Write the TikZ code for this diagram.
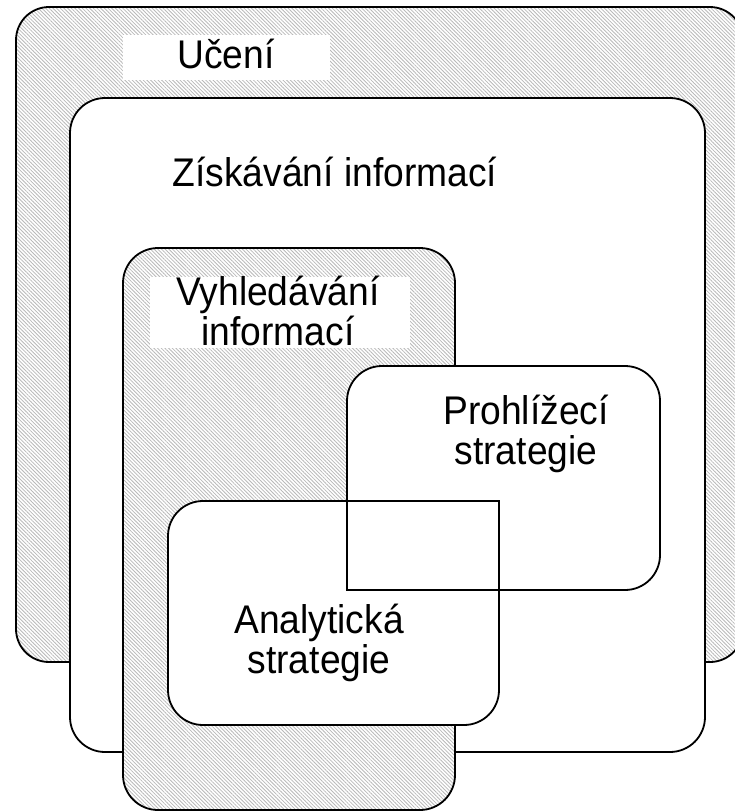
\documentclass[tikz,border=0pt]{standalone}
\usepackage{fontspec}
\setmainfont[FakeStretch=0.93]{Liberation Sans}
\usetikzlibrary{patterns.meta}

\begin{document}
\begin{tikzpicture}[x=1pt,y=-1pt,
	hatched/.style={preaction={fill=white},pattern={Lines[angle=-45,distance=2.6pt,line width=0.8pt]},pattern color=gray!55},
	frame/.style={draw=black,line width=1.8pt},
	boxtext/.style={font=\fontsize{40}{40}\selectfont,align=center,inner sep=0pt}]
	\useasboundingbox (0,0) rectangle (735,812);
	\clip (0,0) rectangle (735,812);
	% nested areas
	\draw[frame,hatched,rounded corners=33] (16,7) rectangle (743,662);
	\draw[frame,fill=white,rounded corners=35] (70,98) rectangle (705,752);
	\draw[frame,hatched,rounded corners=35] (123,248) rectangle (455,810);
	% white label backgrounds
	\fill[white] (123,35) rectangle (330,80);
	\fill[white] (150,277) rectangle (410,348);
	% the two strategies, overlapping
	\fill[white,rounded corners=35] (347,590) -- (347,366) -- (660,366) -- (660,590) -- (347,590);
	\fill[white,rounded corners=35] (499,501) -- (499,725) -- (168,725) -- (168,501) -- (499,501);
	\draw[frame,line cap=rect,rounded corners=35] (347,590) -- (347,366) -- (660,366) -- (660,590) -- (347,590);
	\draw[frame,line cap=rect,rounded corners=35] (499,501) -- (499,725) -- (168,725) -- (168,501) -- (499,501);
	% texts
	\node[boxtext,anchor=base] (uceni) at (226,68) {Učení};
	\node[boxtext,anchor=base] (ziskavani) at (335,186) {Získávání informací};
	\node[boxtext] (vyhledavani) at (278,311) {Vyhledávání\\informací};
	\node[boxtext] (prohlizeci) at (526,434) {Prohlížecí\\strategie};
	\node[boxtext] (analyticka) at (319,643) {Analytická\\strategie};
\end{tikzpicture}
\end{document}
